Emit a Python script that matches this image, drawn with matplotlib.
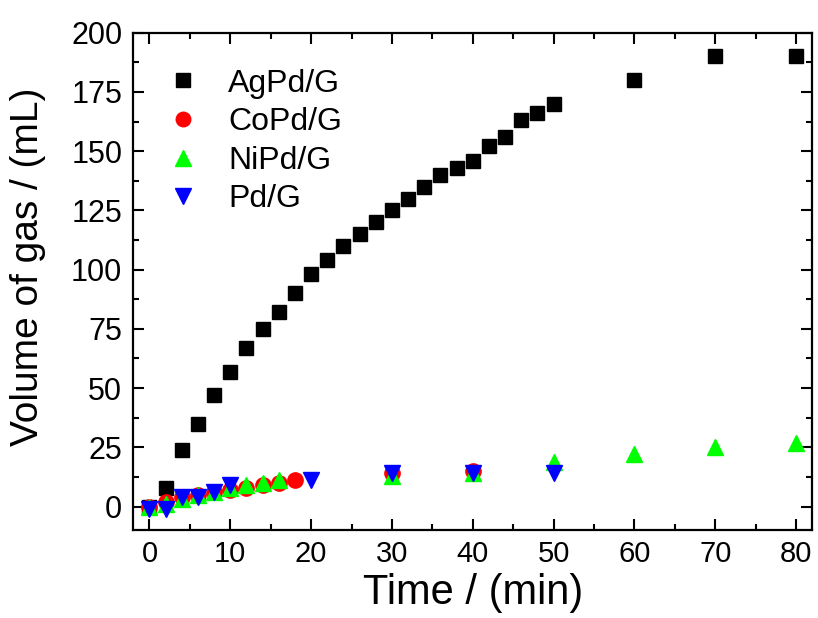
import matplotlib.pyplot as plt
from matplotlib.ticker import MultipleLocator

plt.rcParams['font.family'] = ['Liberation Sans', 'DejaVu Sans']

ag_t = [0, 2, 4, 6, 8, 10, 12, 14, 16, 18, 20, 22, 24, 26, 28, 30, 32, 34, 36, 38,
        40, 42, 44, 46, 48, 50, 60, 70, 80]
ag_v = [0, 8, 24, 35, 47, 57, 67, 75, 82, 90, 98, 104, 110, 115, 120, 125, 130, 135,
        140, 143, 146, 152, 156, 163, 166, 170, 180, 190, 190]

co_t = [0, 2, 4, 6, 8, 10, 12, 14, 16, 18, 30, 40]
co_v = [0, 2, 4, 5, 6, 7, 8, 9, 10, 11, 14, 15]

ni_t = [0, 2, 4, 6, 8, 10, 12, 14, 16, 30, 40, 50, 60, 70, 80]
ni_v = [0, 1, 3, 5, 6, 8, 9, 10, 11, 13, 14, 19, 22, 25, 27]

pd_t = [0, 2, 4, 6, 8, 10, 20, 30, 40, 50]
pd_v = [-1, -1, 4, 4, 6, 9, 11, 14, 14, 14]

fig = plt.figure(figsize=(8.18, 6.18), dpi=100)
ax = fig.add_axes([0.163, 0.142, 0.830, 0.805])

ax.plot(ag_t, ag_v, 's', color='black', ms=10, label='AgPd/G', zorder=3)
ax.plot(co_t, co_v, 'o', color='red', ms=11, label='CoPd/G', zorder=3)
ax.plot(ni_t, ni_v, '^', color='#00ff00', ms=12, label='NiPd/G', zorder=3)
ax.plot(pd_t, pd_v, 'v', color='blue', ms=12, label='Pd/G', zorder=3)

ax.set_xlim(-2, 82)
ax.set_ylim(-10, 200)
ax.xaxis.set_major_locator(MultipleLocator(10))
ax.xaxis.set_minor_locator(MultipleLocator(5))
ax.yaxis.set_major_locator(MultipleLocator(25))
ax.yaxis.set_minor_locator(MultipleLocator(12.5))
ax.tick_params(which='both', direction='in', top=True, right=True, width=1.5)
ax.tick_params(which='major', length=8)
ax.tick_params(which='minor', length=4)
ax.tick_params(axis='y', which='major', labelsize=22, pad=8)
ax.tick_params(axis='x', which='major', labelsize=21, pad=7)
for s in ax.spines.values():
    s.set_linewidth(1.6)

ax.set_xlabel('Time / (min)', fontsize=30)
ax.xaxis.set_label_coords(0.5, -0.085)
ax.set_ylabel('Volume of gas / (mL)', fontsize=28)
ax.yaxis.set_label_coords(-0.128, 0.53)

ax.legend(loc='upper left', frameon=False, fontsize=23, handlelength=1.0,
          handletextpad=0.9, labelspacing=0.27, borderpad=0, borderaxespad=0,
          bbox_to_anchor=(0.05, 0.928), markerscale=0.95)

fig.savefig('out.png', dpi=100)
